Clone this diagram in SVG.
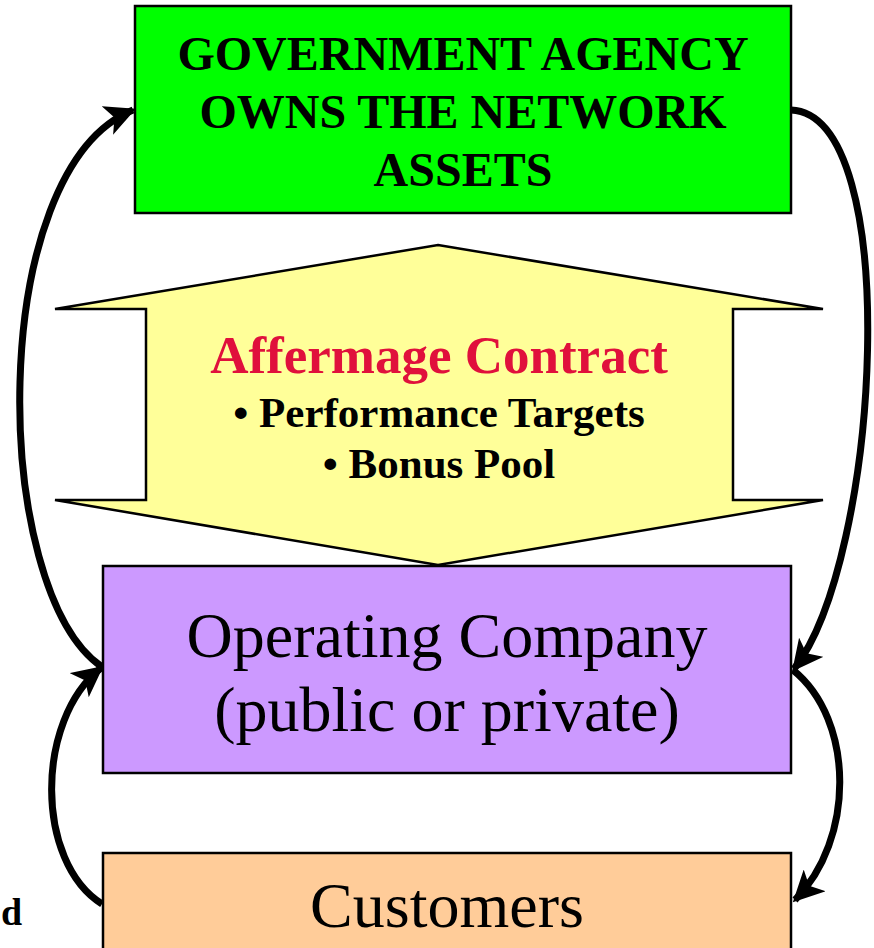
<svg xmlns="http://www.w3.org/2000/svg" width="874" height="948" viewBox="0 0 874 948">
<style>
.box{stroke:#000;stroke-width:2.5}
.tb{font-family:"Liberation Serif","Times New Roman",serif;font-weight:bold;text-anchor:middle}
.tr{font-family:"Liberation Serif","Times New Roman",serif;text-anchor:middle}
.c{fill:none;stroke:#000;stroke-width:7}
</style>
<defs>
<marker id="ah" viewBox="0 0 10 10" refX="9" refY="5" markerWidth="4.4" markerHeight="4.4" markerUnits="strokeWidth" orient="auto">
<path d="M0,0 L10,5 L0,10 L2.5,5 Z" fill="#000"/>
</marker>
</defs>
<rect width="874" height="948" fill="#fff"/>
<g id="government">
<rect class="box" x="135" y="6" width="656" height="207" fill="#00FF00"/>
<text class="tb" font-size="48" x="463" y="70">GOVERNMENT AGENCY</text>
<text class="tb" font-size="48" x="463" y="128">OWNS THE NETWORK</text>
<text class="tb" font-size="48" x="463" y="186">ASSETS</text>
</g>
<g id="contract">
<path class="box" d="M438,245 L823,309 L733,309 L733,500 L823,500 L438,565 L55,500 L146,500 L146,309 L55,309 Z" fill="#FFFF99" stroke-width="2"/>
<text class="tb" font-size="53" x="439" y="373" fill="#E0103C">Affermage Contract</text>
<text class="tb" font-size="43" x="439" y="427">• Performance Targets</text>
<text class="tb" font-size="43" x="439" y="478">• Bonus Pool</text>
</g>
<g id="operating">
<rect class="box" x="103" y="566" width="688" height="207" fill="#CC99FF"/>
<text class="tr" font-size="64" x="447" y="657">Operating Company</text>
<text class="tr" font-size="64" x="447" y="731">(public or private)</text>
</g>
<g id="customers">
<rect class="box" x="103" y="853" width="688" height="110" fill="#FFCC99"/>
<text class="tr" font-size="64" x="447" y="927">Customers</text>
</g>
<g id="side-label">
<text class="tb" font-size="38" x="1" y="925" style="text-anchor:start">d</text>
</g>
<g id="connectors">
<path class="c" d="M102,667 C -10,590 -15,170 133,110" marker-end="url(#ah)"/>
<path class="c" d="M791,110 C 905,115 880,560 794,669" marker-end="url(#ah)"/>
<path class="c" d="M793,670 C 855,720 855,840 795,900" marker-end="url(#ah)"/>
<path class="c" d="M102,904 C 35,862 35,720 101,668" marker-end="url(#ah)"/>
</g>
</svg>
